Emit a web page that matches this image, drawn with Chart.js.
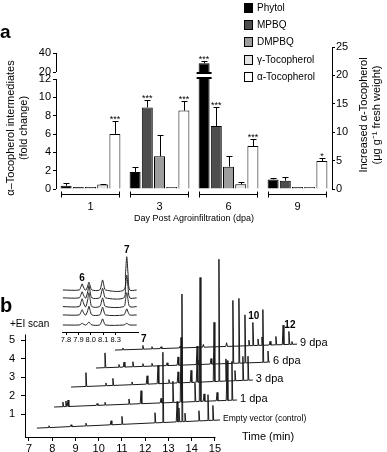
<!DOCTYPE html>
<html>
<head>
<meta charset="utf-8">
<script src="https://cdn.jsdelivr.net/npm/chart.js@4.4.1/dist/chart.umd.min.js"></script>
<style>
    html, body { margin: 0; padding: 0; background: #fff; }
    #wrap { position: relative; width: 387px; height: 452px; overflow: hidden; }
    #wrap canvas { position: absolute; }
</style>
</head>
<body>
<div id="wrap">
    <canvas id="graficoA" width="387" height="228" style="left:0;top:0"></canvas>
    <canvas id="graficoB" width="387" height="224" style="left:0;top:228px"></canvas>
    <canvas id="graficoInset" width="95" height="105" style="left:50px;top:240px"></canvas>
</div>
<script>
// ---- panel a: bars ----
const days = ['1', '3', '6', '9'];
const phytol = [0.36, 1.85, 29.2, 1.05];
const phytolErr = [0.26, 0.5, 2.0, 0.15];
const mpbq = [0.1, 8.9, 6.87, 0.91];
const mpbqErr = [0, 0.77, 2.1, 0.36];
const dmpbq = [0.1, 3.57, 2.44, 0.18];
const dmpbqErr = [0, 2.33, 1.2, 0];
const gammaToc = [0.5, 0.1, 0.51, 0.1];
const gammaTocErr = [0.1, 0, 0.29, 0];
const alphaToc = [9.7, 13.8, 7.57, 4.93];      // µg/g, right axis
const alphaTocErr = [2.3, 1.7, 1.18, 0.57];
const phytolStars = ['', '', '***', ''];
const mpbqStars = ['', '***', '***', ''];
const alphaStars = ['***', '***', '***', '*'];
const leftTicks = [0, 2, 4, 6, 8, 10, 12, 20, 40];
const rightTicks = [0, 5, 10, 15, 20, 25];

// ---- panel b: chromatograms (peaks as [time, height]) ----
const traceNames = ['Empty vector (control)', '1 dpa', '3 dpa', '6 dpa', '9 dpa'];
const traceStart = [7.34, 8.08, 8.81, 9.88, 10.70];
const traceEnd = [15.22, 15.95, 16.63, 17.37, 18.53];
const baseStart = [0.24, 1.38, 2.46, 3.49, 4.46];
const baseEnd = [0.68, 1.76, 2.84, 3.81, 4.78];
const peaksControl = [[7.86, 0.1], [8.81, 0.1], [9.45, 0.15], [10.53, 0.22], [11.0, 0.43], [12.42, 0.55], [12.76, 3.8], [13.37, 1.1], [13.45, 0.75], [13.58, 6.9], [13.71, 0.45], [14.31, 0.55], [14.7, 1.4], [14.91, 0.8]];
const peaks1dpa = [[8.46, 0.25], [8.59, 0.3], [8.68, 0.35], [9.93, 0.1], [10.27, 0.15], [11.3, 0.28], [11.82, 0.7], [12.68, 0.25], [13.19, 1.15], [13.54, 3.5], [14.14, 1.0], [14.36, 6.7], [14.53, 0.4], [15.09, 0.45], [15.52, 2.15], [15.73, 2.1]];
const peaks3dpa = [[9.45, 0.75], [10.31, 0.15], [10.61, 0.38], [11.43, 0.15], [12.08, 0.45], [12.55, 1.0], [13.02, 0.2], [13.41, 0.6], [13.97, 0.65], [14.23, 1.2], [14.96, 3.2], [15.17, 6.6], [15.47, 1.2], [15.86, 0.55], [16.2, 1.3], [16.42, 1.3]];
const peaks6dpa = [[10.27, 0.8], [10.87, 0.15], [11.09, 0.27], [11.47, 0.27], [11.9, 0.15], [12.29, 0.15], [12.94, 0.15], [13.41, 0.45], [14.23, 1.0], [14.83, 0.3], [15.77, 3.4], [16.03, 3.5], [16.29, 2.6], [17.06, 2.85], [17.28, 0.6]];
const peaks9dpa = [[11.04, 0.1], [11.9, 0.2], [12.29, 0.12], [12.68, 0.1], [13.5, 0.1], [14.5, 0.15], [15.5, 0.2], [16.46, 0.3], [16.63, 1.25], [16.85, 0.35], [17.02, 0.45], [17.37, 0.2], [17.62, 0.45], [17.93, 1.05], [18.18, 0.7], [18.31, 0.15]];
const peakLabels9dpa = [[11.9, '7'], [16.63, '10'], [18.18, '12']];
const timeTicks = [7, 8, 9, 10, 11, 12, 13, 14, 15];
const scanTicks = [1, 2, 3, 4, 5];

// ---- inset ----
const insetTickValues = [7.8, 7.9, 8.0, 8.1, 8.2];
const insetTickLabels = ['7.8', '7.9', '8.0', '8.1', '8.3'];
const insetPeakTimes = [7.93, 7.985, 8.095, 8.29];
const insetHeights = [[0.7, 0.9, 1.15, 3.8], [0.7, 1.4, 1.1, 2.6], [0.9, 1.6, 1.0, 1.6], [0.6, 1.0, 0.9, 0.7], [0.2, 0.35, 0.7, 0.2]];
const insetBase = [4.8, 3.9, 2.9, 1.95, 0.8];
const insetStart = 7.775, insetEnd = 8.37;

const FONT = '"Liberation Sans", Arial, Helvetica, sans-serif';
const f = (size, weight) => ({ family: FONT, size: size, weight: weight || 'normal' });

// y axis with a break between 12 and 20
class BrokenScale extends Chart.LinearScale {
    getPixelForValue(value) {
        const pts = this.options.breaks;
        const v = +value;
        let fr = pts[pts.length - 1][1];
        if (v <= pts[0][0]) fr = pts[0][1];
        for (let i = 0; i < pts.length - 1; i++) {
            if (v >= pts[i][0] && v <= pts[i + 1][0]) {
                fr = pts[i][1] + (v - pts[i][0]) / (pts[i + 1][0] - pts[i][0]) * (pts[i + 1][1] - pts[i][1]);
                break;
            }
        }
        return this.bottom - fr * (this.bottom - this.top);
    }
    getValueForPixel(pixel) {
        const pts = this.options.breaks;
        const fr = (this.bottom - pixel) / (this.bottom - this.top);
        for (let i = 0; i < pts.length - 1; i++) {
            if (fr >= pts[i][1] && fr <= pts[i + 1][1]) {
                return pts[i][0] + (fr - pts[i][1]) / (pts[i + 1][1] - pts[i][1]) * (pts[i + 1][0] - pts[i][0]);
            }
        }
        return fr < pts[0][1] ? pts[0][0] : pts[pts.length - 1][0];
    }
}
BrokenScale.id = 'broken';
BrokenScale.defaults = {};
Chart.register(BrokenScale);

const errors = [phytolErr, mpbqErr, dmpbqErr, gammaTocErr, alphaTocErr];
const stars = [phytolStars, mpbqStars, [], [], alphaStars];

const rotText = (ctx, text, x, y) => {
    ctx.save();
    ctx.translate(x, y);
    ctx.rotate(-Math.PI / 2);
    ctx.fillText(text, 0, 0);
    ctx.restore();
};

const extrasA = {
    id: 'extrasA',
    afterDatasetsDraw(chart) {
        const ctx = chart.ctx;
        const yL = chart.scales.y;
        ctx.save();
        // break drawn over the tall phytol bar
        const tall = chart.getDatasetMeta(0).data[2];
        const y12 = yL.getPixelForValue(12), y20 = yL.getPixelForValue(20);
        const w = tall.width;
        ctx.fillStyle = '#fff';
        ctx.fillRect(tall.x - w / 2 - 1, y20 + 2, w + 2, y12 - y20 - 4);
        ctx.fillStyle = '#000';
        ctx.fillRect(tall.x - w / 2 - 2, y20, w + 4, 2);
        ctx.fillRect(tall.x - w / 2 - 2, y12 - 2, w + 4, 2);

        // error bars and stars
        ctx.strokeStyle = '#000';
        ctx.lineWidth = 1;
        ctx.font = `9px ${FONT}`;
        ctx.textAlign = 'center';
        ctx.textBaseline = 'alphabetic';
        chart.data.datasets.forEach((ds, i) => {
            const scale = chart.scales[ds.yAxisID];
            chart.getDatasetMeta(i).data.forEach((bar, j) => {
                const err = errors[i][j];
                const top = scale.getPixelForValue(ds.data[j] + err);
                if (err > 0) {
                    const x = Math.round(bar.x) + 0.5;
                    ctx.beginPath();
                    ctx.moveTo(x, bar.y);
                    ctx.lineTo(x, Math.round(top) + 0.5);
                    ctx.moveTo(x - 3, Math.round(top) + 0.5);
                    ctx.lineTo(x + 3, Math.round(top) + 0.5);
                    ctx.stroke();
                }
                if (stars[i][j]) ctx.fillText(stars[i][j], bar.x, top + 1);
            });
        });
        ctx.restore();
    },
    afterDraw(chart) {
        const ctx = chart.ctx;
        const area = chart.chartArea;
        const yL = chart.scales.y;
        ctx.save();
        ctx.strokeStyle = '#000';
        ctx.lineWidth = 1;
        // left axis in two pieces
        const xa = area.left + 0.5;
        ctx.beginPath();
        ctx.moveTo(xa, yL.getPixelForValue(0));
        ctx.lineTo(xa, yL.getPixelForValue(12));
        ctx.moveTo(xa, yL.getPixelForValue(20));
        ctx.lineTo(xa, yL.getPixelForValue(40));
        ctx.stroke();

        // group brackets under the bars
        const yb = Math.round(area.bottom + 5) + 0.5;
        days.forEach((d, j) => {
            const a = chart.getDatasetMeta(0).data[j];
            const b = chart.getDatasetMeta(4).data[j];
            const x0 = Math.round(a.x - a.width / 2) + 0.5, x1 = Math.round(b.x + b.width / 2) - 0.5;
            ctx.beginPath();
            ctx.moveTo(x0, yb); ctx.lineTo(x1, yb);
            ctx.moveTo(x0, yb - 3); ctx.lineTo(x0, yb + 3);
            ctx.moveTo(x1, yb - 3); ctx.lineTo(x1, yb + 3);
            ctx.stroke();
        });

        // legend
        ctx.font = `10px ${FONT}`;
        ctx.textAlign = 'left';
        ctx.textBaseline = 'middle';
        chart.data.datasets.forEach((ds, i) => {
            const yc = Math.round(7.5 + i * 17.35);
            ctx.fillStyle = ds.backgroundColor;
            ctx.fillRect(244, yc - 5, 9, 10);
            ctx.strokeRect(244.5, yc - 4.5, 8, 9);
            ctx.fillStyle = '#000';
            ctx.fillText(ds.label, 257, yc);
        });

        // titles
        ctx.fillStyle = '#000';
        ctx.font = `bold 19px ${FONT}`;
        ctx.textBaseline = 'alphabetic';
        ctx.fillText('a', 0, 38);
        ctx.font = `11px ${FONT}`;
        ctx.textAlign = 'center';
        ctx.textBaseline = 'middle';
        rotText(ctx, 'α–Tocopherol intermediates', 11, 128);
        rotText(ctx, '(fold change)', 24, 128);
        rotText(ctx, 'Increased α-Tocopherol', 364, 115);
        rotText(ctx, '(μg g⁻¹ fresh weight)', 377, 115);
        ctx.font = `9px ${FONT}`;
        ctx.fillText('Day Post Agroinfiltration (dpa)', 194, 219);
        ctx.restore();
    }
};

const barStyle = { borderColor: '#000', borderWidth: 1, minBarLength: 2, categoryPercentage: 0.884, barPercentage: 0.9 };

const graficoA = new Chart(document.getElementById('graficoA'), {
    type: 'bar',
    data: {
        labels: days,
        datasets: [
            { label: 'Phytol', data: phytol, backgroundColor: '#000000', yAxisID: 'y', ...barStyle },
            { label: 'MPBQ', data: mpbq, backgroundColor: '#4d4d4d', yAxisID: 'y', ...barStyle },
            { label: 'DMPBQ', data: dmpbq, backgroundColor: '#9d9d9d', yAxisID: 'y', ...barStyle },
            { label: 'γ-Tocopherol', data: gammaToc, backgroundColor: '#e3e3e3', yAxisID: 'y', ...barStyle },
            { label: 'α-Tocopherol', data: alphaToc, backgroundColor: '#ffffff', yAxisID: 'y2', ...barStyle }
        ]
    },
    plugins: [extrasA],
    options: {
        responsive: false,
        animation: false,
        layout: { padding: { top: 47, left: 0, right: 0, bottom: 0 } },
        plugins: { legend: { display: false }, tooltip: { enabled: false } },
        scales: {
            x: {
                grid: { display: false, drawTicks: false },
                border: { display: false },
                ticks: { font: f(11), color: '#000', padding: 11 },
                afterFit: s => { s.height = 39; }
            },
            y: {
                type: 'broken',
                min: 0,
                max: 40,
                breaks: [[0, 0], [12, 0.7746], [20, 0.8239], [40, 0.9577]],
                afterBuildTicks: s => { s.ticks = leftTicks.map(v => ({ value: v })); },
                ticks: { font: f(11), color: '#000', padding: 2, autoSkip: false, callback: v => String(v) },
                grid: { drawOnChartArea: false, tickLength: 3, color: '#000' },
                border: { display: false },
                afterFit: s => { s.width = 56; }
            },
            y2: {
                position: 'right',
                min: 0,
                max: 25,
                afterBuildTicks: s => { s.ticks = rightTicks.map(v => ({ value: v })); },
                ticks: { font: f(11), color: '#000', padding: 1, autoSkip: false, callback: v => String(v) },
                grid: { drawOnChartArea: false, tickLength: 3, color: '#000' },
                border: { display: true, color: '#000', width: 1 },
                afterFit: s => { s.width = 55; }
            }
        }
    }
});

// ---- panel b ----
const traceData = (i, peaks) => {
    const t0 = traceStart[i], t1 = traceEnd[i];
    const base = t => baseStart[i] + (baseEnd[i] - baseStart[i]) * (t - t0) / (t1 - t0);
    const pts = [{ x: t0, y: base(t0) }];
    peaks.forEach(([t, h]) => {
        pts.push({ x: t - 0.035, y: base(t) }, { x: t, y: base(t) + h }, { x: t + 0.035, y: base(t) });
    });
    pts.push({ x: t1, y: base(t1) });
    return pts;
};
const allPeaks = [peaksControl, peaks1dpa, peaks3dpa, peaks6dpa, peaks9dpa];

const extrasB = {
    id: 'extrasB',
    afterDraw(chart) {
        const ctx = chart.ctx;
        const xs = chart.scales.x, ys = chart.scales.y;
        const area = chart.chartArea;
        ctx.save();
        ctx.strokeStyle = '#000';
        ctx.lineWidth = 1;
        ctx.beginPath();
        ctx.moveTo(area.left + 0.5, area.bottom + 0.5);
        ctx.lineTo(area.left + 0.5, ys.getPixelForValue(5.3));
        ctx.moveTo(area.left, area.bottom + 0.5);
        ctx.lineTo(xs.getPixelForValue(15) + 0.5, area.bottom + 0.5);
        ctx.stroke();

        ctx.fillStyle = '#000';
        ctx.textAlign = 'left';
        ctx.textBaseline = 'middle';
        traceNames.forEach((name, i) => {
            ctx.font = i === 0 ? `8.5px ${FONT}` : `11px ${FONT}`;
            ctx.fillText(name, xs.getPixelForValue(traceEnd[i]) + 3, ys.getPixelForValue(baseEnd[i]) - 1);
        });

        // peak numbers on the 9 dpa trace
        ctx.font = `bold 10px ${FONT}`;
        ctx.textAlign = 'center';
        ctx.textBaseline = 'bottom';
        const i9 = 4;
        peakLabels9dpa.forEach(([t, lab]) => {
            const pk = peaks9dpa.find(p => p[0] === t);
            const b = baseStart[i9] + (baseEnd[i9] - baseStart[i9]) * (t - traceStart[i9]) / (traceEnd[i9] - traceStart[i9]);
            ctx.fillText(lab, xs.getPixelForValue(t) + 1, ys.getPixelForValue(b + pk[1]) - 1);
        });

        ctx.font = `11px ${FONT}`;
        ctx.textAlign = 'left';
        ctx.textBaseline = 'middle';
        ctx.fillText('Time (min)', 242, 209);
        ctx.font = `10px ${FONT}`;
        ctx.fillText('+EI scan', 10, 96);
        ctx.font = `bold 20px ${FONT}`;
        ctx.textBaseline = 'alphabetic';
        ctx.fillText('b', 0, 84);
        ctx.restore();
    }
};

const graficoB = new Chart(document.getElementById('graficoB'), {
    type: 'line',
    data: {
        datasets: traceNames.map((name, i) => ({
            label: name,
            data: traceData(i, allPeaks[i]),
            borderColor: '#1a1a1a',
            borderWidth: 1,
            pointRadius: 0,
            tension: 0,
            fill: false
        }))
    },
    plugins: [extrasB],
    options: {
        responsive: false,
        animation: false,
        layout: { padding: { top: 22, right: 56, left: 0, bottom: 0 } },
        plugins: { legend: { display: false }, tooltip: { enabled: false } },
        scales: {
            x: {
                type: 'linear',
                min: 6.83,
                max: 19.99,
                afterBuildTicks: s => { s.ticks = timeTicks.map(v => ({ value: v })); },
                ticks: { font: f(11), color: '#000', padding: 1, autoSkip: false, maxRotation: 0, callback: v => String(v) },
                grid: { drawOnChartArea: false, tickLength: 4, color: '#000' },
                border: { display: false },
                afterFit: s => { s.height = 15; }
            },
            y: {
                min: -0.24,
                max: 9.87,
                afterBuildTicks: s => { s.ticks = scanTicks.map(v => ({ value: v })); },
                ticks: { font: f(11), color: '#000', padding: 6, autoSkip: false, callback: v => String(v) },
                grid: { drawOnChartArea: false, tickLength: 4, color: '#000' },
                border: { display: false },
                afterFit: s => { s.width = 25; }
            }
        }
    }
});

// ---- inset ----
const insetData = (k) => {
    const b = insetBase[k];
    const pts = [{ x: insetStart, y: b }];
    insetPeakTimes.forEach((t, p) => {
        const h = insetHeights[k][p];
        pts.push({ x: t - 0.024, y: b }, { x: t - 0.01, y: b + h * 0.5 }, { x: t, y: b + h }, { x: t + 0.01, y: b + h * 0.5 }, { x: t + 0.024, y: b });
    });
    pts.push({ x: insetEnd, y: b });
    return pts;
};

const extrasInset = {
    id: 'extrasInset',
    afterDraw(chart) {
        const ctx = chart.ctx;
        const xs = chart.scales.x, ys = chart.scales.y;
        ctx.save();
        ctx.fillStyle = '#000';
        ctx.textAlign = 'center';
        ctx.textBaseline = 'bottom';
        ctx.font = `bold 10px ${FONT}`;
        [[0, '6'], [3, '7']].forEach(([p, lab]) => {
            ctx.fillText(lab, xs.getPixelForValue(insetPeakTimes[p]), ys.getPixelForValue(insetBase[0] + insetHeights[0][p]) - 1);
        });
        ctx.restore();
    }
};

const graficoInset = new Chart(document.getElementById('graficoInset'), {
    type: 'line',
    data: {
        datasets: insetBase.map((b, k) => ({
            data: insetData(k),
            borderColor: '#222',
            borderWidth: 1,
            pointRadius: 0,
            tension: 0.3,
            fill: false
        }))
    },
    plugins: [extrasInset],
    options: {
        responsive: false,
        animation: false,
        layout: { padding: { top: 5, left: 12, right: 7, bottom: 0 } },
        plugins: { legend: { display: false }, tooltip: { enabled: false } },
        scales: {
            x: {
                type: 'linear',
                min: 7.7677,
                max: 8.3806,
                afterBuildTicks: s => { s.ticks = insetTickValues.map(v => ({ value: v })); },
                ticks: { font: f(7.5), color: '#000', padding: 0, autoSkip: false, maxRotation: 0, callback: (v, i) => insetTickLabels[i] },
                grid: { drawOnChartArea: false, tickLength: 3, color: '#000' },
                border: { display: true, color: '#000' },
                afterFit: s => { s.height = 13; }
            },
            y: { display: false, min: 0, max: 9.94 }
        }
    }
});
</script>
</body>
</html>
